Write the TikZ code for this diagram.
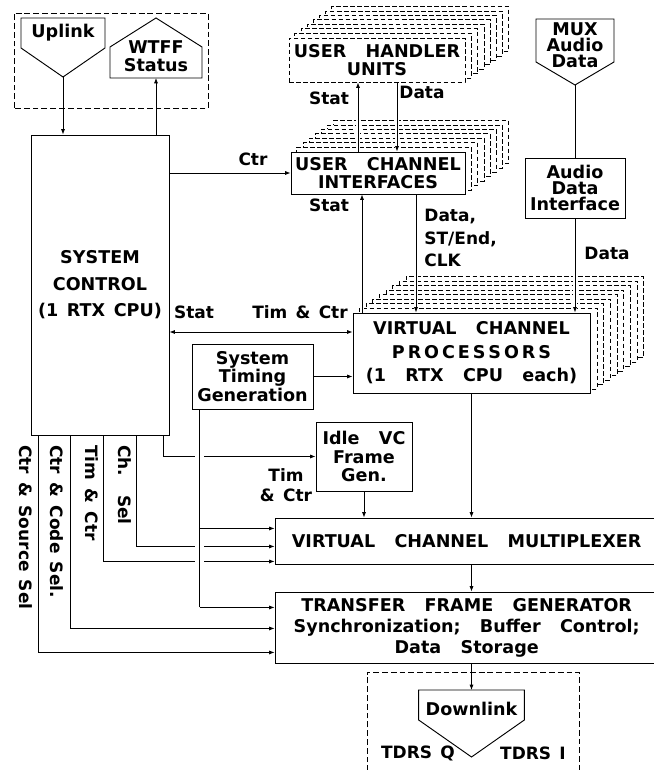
\documentclass[tikz,border=0pt]{standalone}
\usepackage{fontspec}
\setmainfont{DejaVu Sans}[WordSpace=1.4]
\usetikzlibrary{arrows.meta,calc,positioning,backgrounds}
\newcommand{\wgap}{\hspace{1.1em}}
\tikzset{
  wire/.style={black,line width=0.6pt},
  flow/.style={wire,-{Latex[length=1.6mm,width=1.2mm]}},
  twoway/.style={wire,{Latex[length=1.6mm,width=1.2mm]}-{Latex[length=1.6mm,width=1.2mm]}},
  halo/.style={preaction={-,draw=white,line width=#1,shorten <=1.5pt,shorten >=1.5pt}},
  halo/.default=3.5pt,
  frame/.style={draw=black,line width=0.7pt,dash pattern=on 5pt off 2.5pt},
  ghost/.style={draw=black,fill=white,line width=0.6pt,dash pattern=on 4pt off 2pt},
  outline/.style={draw=black,line width=0.8pt,fill=white},
  block/.style={draw=black,line width=0.8pt,fill=white,align=center,inner sep=2pt,
                font=\fontsize{15}{16}\selectfont\bfseries},
  title/.style={align=center,inner sep=1pt,font=\fontsize{15}{15}\selectfont\bfseries},
  lab/.style={align=center,inner sep=1pt,font=\fontsize{14.5}{17}\selectfont\bfseries},
}

\begin{document}
\begin{tikzpicture}[x=1cm,y=1cm]
  \useasboundingbox (0,0) rectangle (19.59,23.1);

  % uplink / status terminals
  \draw[frame] (0.42,19.86) rectangle (6.24,22.71);
  \draw[outline] (0.63,22.56) -- (3.15,22.56) -- (3.15,21.66) -- (1.89,20.79) -- (0.63,21.66) -- cycle;
  \node[title] (uplink) at (1.89,22.11) {Uplink};
  \coordinate (uplinktip) at (1.89,20.79);
  \draw[outline] (3.30,20.76) -- (6.06,20.76) -- (6.06,21.69) -- (4.68,22.56) -- (3.30,21.69) -- cycle;
  \node[title] (wtff) at (4.68,21.42) {WTFF\\Status};
  \coordinate (wtffbase) at (4.68,20.76);

  % mux audio terminal
  \draw[outline] (16.08,22.53) -- (18.42,22.53) -- (18.42,21.24) -- (17.25,20.55) -- (16.08,21.24) -- cycle;
  \node[title,font=\fontsize{15}{13.5}\selectfont\bfseries] (mux) at (17.25,21.75) {MUX\\Audio\\Data};
  \coordinate (muxtip) at (17.25,20.55);

  % main blocks
  \node[block,minimum width=4.14cm,minimum height=9cm,font=\fontsize{15}{22.5}\selectfont\bfseries]
    (sysctl) at (3.0,14.55) {SYSTEM\\CONTROL\\(1 RTX CPU)};
  \node[block,dashed,dash pattern=on 4pt off 2pt,minimum width=5.28cm,minimum height=1.32cm]
    (uhu) at (11.31,21.30) {USER\wgap HANDLER\\UNITS};
  \node[block,minimum width=5.22cm,minimum height=1.26cm]
    (uci) at (11.34,17.91) {USER\wgap CHANNEL\\INTERFACES};
  \node[block,minimum width=3.0cm,minimum height=1.8cm,font=\fontsize{15}{14}\selectfont\bfseries]
    (adi) at (17.25,17.46) {Audio\\Data\\Interface};
  \node[block,minimum width=7.11cm,minimum height=2.4cm,font=\fontsize{15}{20}\selectfont\bfseries]
    (vcp) at (14.145,12.51) {VIRTUAL\wgap CHANNEL\\P\,R\,O\,C\,E\,S\,S\,O\,R\,S\\(1\wgap RTX\wgap CPU\wgap each)};
  \node[block,minimum width=3.63cm,minimum height=1.95cm]
    (stg) at (7.575,11.805) {System\\Timing\\Generation};
  \node[block,minimum width=2.88cm,minimum height=2.07cm,font=\fontsize{15}{15.7}\selectfont\bfseries]
    (idle) at (10.92,9.405) {Idle\wgap VC\\Frame\\Gen.};
  \node[block,minimum width=11.5cm,minimum height=1.38cm]
    (vcm) at (14.0,6.87) {VIRTUAL\wgap CHANNEL\wgap MULTIPLEXER};
  \node[block,minimum width=11.5cm,minimum height=2.13cm,font=\fontsize{15}{18}\selectfont\bfseries]
    (tfg) at (14.0,4.275) {TRANSFER\wgap FRAME\wgap GENERATOR\\Synchronization;\wgap Buffer\wgap Control;\\Data\wgap Storage};

  % stacked copies
  \begin{scope}[on background layer]
    \foreach \i in {7,...,1}
      \draw[ghost] ($(uhu.south west)+(\i*0.185,\i*0.133)$) rectangle ($(uhu.north east)+(\i*0.185,\i*0.133)$);
    \foreach \i in {7,...,1}
      \draw[ghost] ($(uci.south west)+(\i*0.185,\i*0.133)$) rectangle ($(uci.north east)+(\i*0.185,\i*0.133)$);
    \foreach \i in {8,...,1}
      \draw[ghost] ($(vcp.south west)+(\i*0.2,\i*0.135)$) rectangle ($(vcp.north east)+(\i*0.2,\i*0.135)$);
  \end{scope}

  % downlink terminal
  \draw[frame] (11.01,-0.3) |- (17.37,2.94) -- (17.37,-0.3);
  \draw[outline] (12.56,2.4) -- (15.73,2.4) -- (15.73,1.5) -- (14.145,0.39) -- (12.56,1.5) -- cycle;
  \node[title] (down) at (14.145,1.83) {Downlink};
  \coordinate (downtop) at (14.145,2.4);
  \node[lab] (tdrsq) at (12.54,0.51) {TDRS Q};
  \node[lab] (tdrsi) at (15.99,0.51) {TDRS I};

  % upper connectors
  \draw[flow] (uplinktip) -- (uplinktip |- sysctl.north);
  \draw[flow] (wtffbase |- sysctl.north) -- (wtffbase);
  \draw[flow] (sysctl.east |- uci.west) -- (uci.west);
  \coordinate (uhustat) at ([xshift=-0.57cm]uhu.south);
  \coordinate (uhudata) at ([xshift=0.6cm]uhu.south);
  \draw[flow,halo] (uhustat |- uci.north) -- (uhustat);
  \draw[flow,halo] (uhudata) -- (uhudata |- uci.north);
  \coordinate (ucistat) at ([xshift=-0.48cm]uci.south);
  \coordinate (ucidata) at ([xshift=1.14cm]uci.south);
  \draw[flow,halo] (ucistat |- vcp.north) -- (ucistat);
  \draw[flow,halo] (ucidata) -- (ucidata |- vcp.north);
  \draw[wire] (muxtip) -- (adi.north);
  \draw[flow,halo] (adi.south) -- (adi.south |- vcp.north);
  \coordinate (vcptim) at ([yshift=0.63cm]vcp.west);
  \draw[twoway] (sysctl.east |- vcptim) -- (vcptim);
  \draw[flow] (stg.east) -- (stg.east -| vcp.west);

  \node[lab] (lctr) at (7.59,18.33) {Ctr};
  \node[lab] (lstat1) at (9.87,20.16) {Stat};
  \node[lab] (ldata1) at (12.66,20.34) {Data};
  \node[lab] (lstat2) at (9.87,16.95) {Stat};
  \node[lab,anchor=west,align=left,font=\fontsize{14.5}{19}\selectfont\bfseries] (ldata2) at (12.69,15.96) {Data,\\ST/End,\\CLK};
  \node[lab] (ldata3) at (18.21,15.51) {Data};
  \node[lab] (lstat3) at (5.82,13.74) {Stat};
  \node[lab] (ltim1) at (9.0,13.74) {Tim \& Ctr};

  % lower connectors
  \draw[flow] ([xshift=0.24cm]sysctl.south west) |- ([yshift=0.33cm]tfg.south west);
  \draw[flow] ([xshift=1.2cm]sysctl.south west) |- ([yshift=1.05cm]tfg.south west);
  \draw[flow] ([xshift=2.19cm]sysctl.south west) |- ([yshift=0.09cm]vcm.south west);
  \draw[flow] ([xshift=3.18cm]sysctl.south west) |- ([yshift=0.54cm]vcm.south west);
  \draw[flow] ([xshift=3.99cm]sysctl.south west) |- (idle.west);
  \coordinate (bus) at ([xshift=0.24cm]stg.south west);
  \coordinate (tfgbus) at ([yshift=1.68cm]tfg.south west);
  \coordinate (vcmbus) at ([yshift=1.08cm]vcm.south west);
  \draw[wire,halo=7pt] (bus) -- (bus |- tfgbus);
  \draw[flow] (bus |- tfgbus) -- (tfgbus);
  \draw[flow] (bus |- vcmbus) -- (vcmbus);
  \draw[flow] (idle.south) -- (idle.south |- vcm.north);
  \draw[flow] (vcp.south) -- (vcp.south |- vcm.north);
  \draw[flow] (vcp.south |- vcm.south) -- (vcp.south |- tfg.north);
  \draw[flow] (vcp.south |- tfg.south) -- (downtop);

  \node[lab] (ltim2) at (8.58,8.55) {Tim\\\& Ctr};
  \node[lab,rotate=-90,anchor=west] (lsrc) at (0.78,9.78) {Ctr \& Source Sel};
  \node[lab,rotate=-90,anchor=west] (lcode) at (1.71,9.78) {Ctr \& Code Sel.};
  \node[lab,rotate=-90,anchor=west] (ltim3) at (2.76,9.78) {Tim \& Ctr};
  \node[lab,rotate=-90,anchor=west] (lch) at (3.75,9.78) {Ch.\wgap Sel};
\end{tikzpicture}
\end{document}
